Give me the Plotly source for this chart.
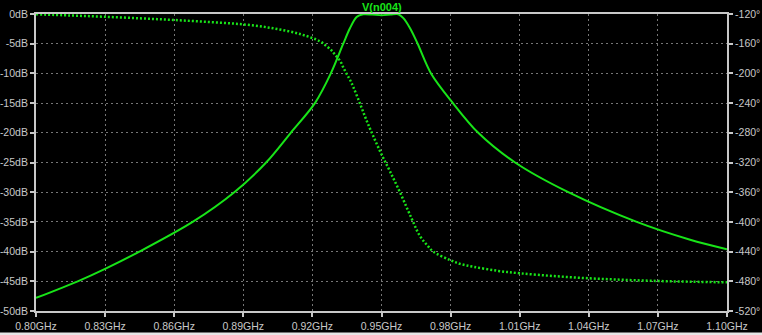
import plotly.graph_objects as go

# Magnitude (solid) : frequency in GHz, level in dB
mag_freq = [0.800, 0.8181, 0.830, 0.8449, 0.868, 0.8861, 0.8999, 0.9106, 0.9211,
            0.928, 0.9334, 0.9363, 0.9392, 0.9421, 0.946, 0.950, 0.954, 0.9573,
            0.9595, 0.9624, 0.9657, 0.9715, 0.981, 0.992, 1.008, 1.0311, 1.0608,
            1.084, 1.100]
mag_db = [-47.8, -45.0, -42.9, -40.0, -35.0, -30.0, -25.0, -20.0, -15.0,
          -10.0, -5.0, -2.4, -0.5, -0.05, -0.1, -0.2, -0.1, -0.05,
          -0.7, -2.4, -5.0, -10.0, -15.0, -20.0, -25.0, -30.0, -35.0,
          -38.0, -39.6]

# Phase (dotted) : frequency in GHz, phase in degrees
ph_freq = [0.800, 0.815, 0.829, 0.845, 0.8595, 0.875, 0.890, 0.903, 0.9146, 0.9233,
           0.9262, 0.9284, 0.9298, 0.932, 0.9334, 0.9349, 0.9363, 0.9378, 0.9407,
           0.9436, 0.9465, 0.950, 0.9537, 0.958, 0.9624, 0.9667, 0.970, 0.9725,
           0.9797, 0.9841, 0.990, 1.0007, 1.0101, 1.025, 1.0405, 1.055, 1.0702, 1.085, 1.100]
ph_deg = [-120.4, -122.0, -123.6, -125.8, -128.0, -130.8, -134.0, -139.3, -147.0, -156.8,
          -163.5, -169.4, -174.8, -182.9, -191.8, -200.8, -208.5, -218.7, -241.0,
          -264.0, -285.0, -309.0, -332.0, -360.0, -390.7, -419.0, -432.0, -440.0,
          -451.3, -456.5, -460.5, -466.0, -469.2, -473.0, -476.0, -478.0, -479.6, -480.6, -481.4]

# Tick labels
x_ticks = [0.80, 0.83, 0.86, 0.89, 0.92, 0.95, 0.98, 1.01, 1.04, 1.07, 1.10]
x_labels = ["0.80GHz", "0.83GHz", "0.86GHz", "0.89GHz", "0.92GHz", "0.95GHz",
            "0.98GHz", "1.01GHz", "1.04GHz", "1.07GHz", "1.10GHz"]
db_ticks = [0, -5, -10, -15, -20, -25, -30, -35, -40, -45, -50]
db_labels = ["0dB", "-5dB", "-10dB", "-15dB", "-20dB", "-25dB", "-30dB",
             "-35dB", "-40dB", "-45dB", "-50dB"]
deg_ticks = [-120, -160, -200, -240, -280, -320, -360, -400, -440, -480, -520]
deg_labels = ["-120°", "-160°", "-200°", "-240°", "-280°", "-320°", "-360°",
              "-400°", "-440°", "-480°", "-520°"]

trace_name = "V(n004)"

GREEN = "#18e418"
FRAME = "#c8c8c8"
GRID = "#767676"
LABEL = "#c8c8c8"
FONT = "Liberation Sans"

fig = go.Figure()
fig.add_trace(go.Scatter(x=mag_freq, y=mag_db, mode="lines", yaxis="y",
                         line=dict(color=GREEN, width=2, shape="spline", smoothing=0.9),
                         showlegend=False, hoverinfo="skip"))
fig.add_trace(go.Scatter(x=ph_freq, y=ph_deg, mode="lines", yaxis="y2",
                         line=dict(color=GREEN, width=2.5, dash="2px,2px",
                                   shape="spline", smoothing=1.0),
                         showlegend=False, hoverinfo="skip"))

axis_common = dict(ticks="outside", ticklen=4, tickwidth=1.5, tickcolor=FRAME,
                   showline=True, linecolor=FRAME, linewidth=2, automargin=False,
                   tickfont=dict(family=FONT, size=10.5, color=LABEL), zeroline=False)

fig.update_layout(
    width=762, height=335,
    margin=dict(l=36, r=35, t=14, b=24, autoexpand=False),
    paper_bgcolor="black", plot_bgcolor="black",
    xaxis=dict(range=[0.80, 1.10], tickmode="array", tickvals=x_ticks, ticktext=x_labels,
               mirror=True, showgrid=True, gridcolor=GRID, gridwidth=1, griddash="2px,3px",
               **axis_common),
    yaxis=dict(range=[-50, 0], tickmode="array", tickvals=db_ticks, ticktext=db_labels,
               showgrid=True, gridcolor=GRID, gridwidth=1, griddash="2px,3px",
               **axis_common),
    yaxis2=dict(range=[-520, -120], tickmode="array", tickvals=deg_ticks, ticktext=deg_labels,
                overlaying="y", side="right", showgrid=False, **axis_common),
    annotations=[dict(text="<b>" + trace_name + "</b>", xref="paper", yref="paper",
                      x=0.5, y=1.0, yshift=7, xanchor="center", yanchor="middle",
                      showarrow=False, font=dict(family=FONT, size=11, color=GREEN))],
    shapes=[dict(type="rect", xref="paper", yref="paper",
                 x0=-36 / 691, x1=1 + 35 / 691, y0=-21.5 / 297, y1=-26 / 297,
                 fillcolor="#e6e6e6", line=dict(width=0), layer="above")],
)

fig.write_html("out.html")
